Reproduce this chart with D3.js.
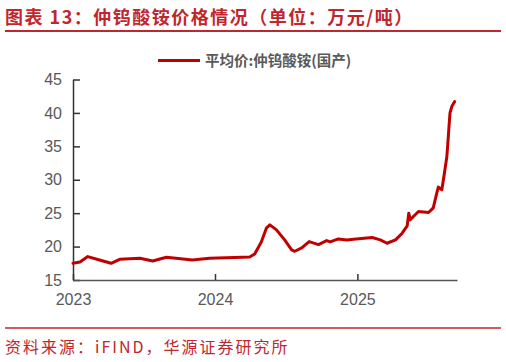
<!DOCTYPE html>
<head>
	<meta charset="utf-8">
	<script src="https://d3js.org/d3.v7.min.js"></script>
	<style>
		body { margin: 0; background: #fff; }
	</style>
</head>
<body>
	<script type="text/javascript">

		var w = 506;
		var h = 362;

		// 平均价:仲钨酸铵(国产), 万元/吨
		var dates = ["2023-01-01","2023-01-19","2023-02-08","2023-03-10","2023-04-09","2023-05-01",
			"2023-06-22","2023-07-25","2023-08-29","2023-11-04","2023-12-18","2024-02-20",
			"2024-03-30","2024-04-12","2024-04-29","2024-05-12","2024-05-21","2024-06-07",
			"2024-06-28","2024-07-16","2024-07-24","2024-08-11","2024-08-30","2024-09-23",
			"2024-10-14","2024-10-23","2024-11-13","2024-12-05","2024-12-22","2025-02-08",
			"2025-03-01","2025-03-18","2025-04-09","2025-04-26","2025-05-09","2025-05-13",
			"2025-05-17","2025-05-25","2025-06-07","2025-07-03","2025-07-15","2025-07-24",
			"2025-07-28","2025-08-06","2025-08-14","2025-08-19","2025-08-23","2025-08-27",
			"2025-09-01","2025-09-08"];
		var prices = [17.5,17.7,18.5,18.0,17.5,18.1,
			18.25,17.85,18.4,18.0,18.25,18.35,
			18.45,18.9,20.7,22.75,23.25,22.5,
			21.0,19.5,19.3,19.8,20.75,20.3,
			20.9,20.7,21.15,21.0,21.1,21.35,
			21.0,20.5,21.0,22.0,23.1,25.0,
			24.0,24.5,25.25,25.1,25.8,28.0,
			28.9,28.5,31.5,33.5,36.75,40.0,
			41.0,41.7];
		var yTicks = [15,20,25,30,35,40,45];
		var xTicks = ["2023-01-01","2024-01-01","2025-01-01"];

		var parse = d3.timeParse("%Y-%m-%d");
		var data = dates.map(function(d, i){ return {date: parse(d), v: prices[i]}; });

		var svg = d3.select("body").append("svg")
			.attr("width", w)
			.attr("height", h);

		var red = "#c00000";
		var gray = "#595959";

		// title
		svg.append("text")
			.attr("x", 5).attr("y", 24)
			.attr("fill", "#c0262d")
			.style("font-family", "'Noto Sans CJK SC'")
			.style("font-size", "18px")
			.style("font-weight", "bold")
			.style("letter-spacing", "1.5px")
			.text("图表 13：仲钨酸铵价格情况（单位：万元/吨）");
		svg.append("line")
			.attr("x1", 5).attr("x2", 501).attr("y1", 31).attr("y2", 31)
			.attr("stroke", "#c0262d").attr("stroke-width", 2);

		var xScale = d3.scaleTime()
			.domain([parse("2023-01-01"), parse("2025-09-14")])
			.range([73, 457]);
		var yScale = d3.scaleLinear()
			.domain([15, 45])
			.range([280, 79.5]);

		var yAxis = svg.append("g")
			.attr("transform", "translate(73,0)")
			.call(d3.axisLeft(yScale).tickValues(yTicks).tickSizeInner(-7).tickSizeOuter(0).tickPadding(11));
		yAxis.select(".domain").attr("stroke", "#333").attr("stroke-width", 1.5);
		yAxis.selectAll(".tick line").attr("stroke", "#333").attr("stroke-width", 1.5);

		var xAxis = svg.append("g")
			.attr("transform", "translate(0,280)")
			.call(d3.axisBottom(xScale).tickValues(xTicks.map(parse)).tickFormat(d3.timeFormat("%Y"))
				.tickSizeInner(-6).tickSizeOuter(0).tickPadding(14));
		xAxis.select(".domain").attr("stroke", "#555").attr("stroke-width", 1.5);
		xAxis.selectAll(".tick line").attr("stroke", "#333").attr("stroke-width", 1.5);

		svg.selectAll(".tick text")
			.attr("fill", gray)
			.style("font-family", "'Liberation Sans', Arial")
			.style("font-size", "16px");

		var line = d3.line()
			.x(function(d){ return xScale(d.date); })
			.y(function(d){ return yScale(d.v); });

		svg.append("path")
			.datum(data)
			.attr("d", line)
			.attr("fill", "none")
			.attr("stroke", red)
			.attr("stroke-width", 3)
			.attr("stroke-linejoin", "round")
			.attr("stroke-linecap", "round");

		// legend
		svg.append("line")
			.attr("x1", 158).attr("x2", 200).attr("y1", 60.5).attr("y2", 60.5)
			.attr("stroke", red).attr("stroke-width", 3);
		svg.append("text")
			.attr("x", 205).attr("y", 66)
			.attr("fill", gray)
			.style("font-family", "'Noto Sans CJK SC'")
			.style("font-size", "14.5px")
			.style("font-weight", "bold")
			.text("平均价:仲钨酸铵(国产)");

		// source
		svg.append("line")
			.attr("x1", 5).attr("x2", 501).attr("y1", 328).attr("y2", 328)
			.attr("stroke", "#c0262d").attr("stroke-width", 1.5);
		svg.append("text")
			.attr("x", 5).attr("y", 353)
			.attr("fill", "#c0262d")
			.style("font-family", "'Noto Sans CJK SC'")
			.style("font-size", "16px")
			.style("letter-spacing", "2px")
			.text("资料来源：iFIND，华源证券研究所");

	</script>
</body>
